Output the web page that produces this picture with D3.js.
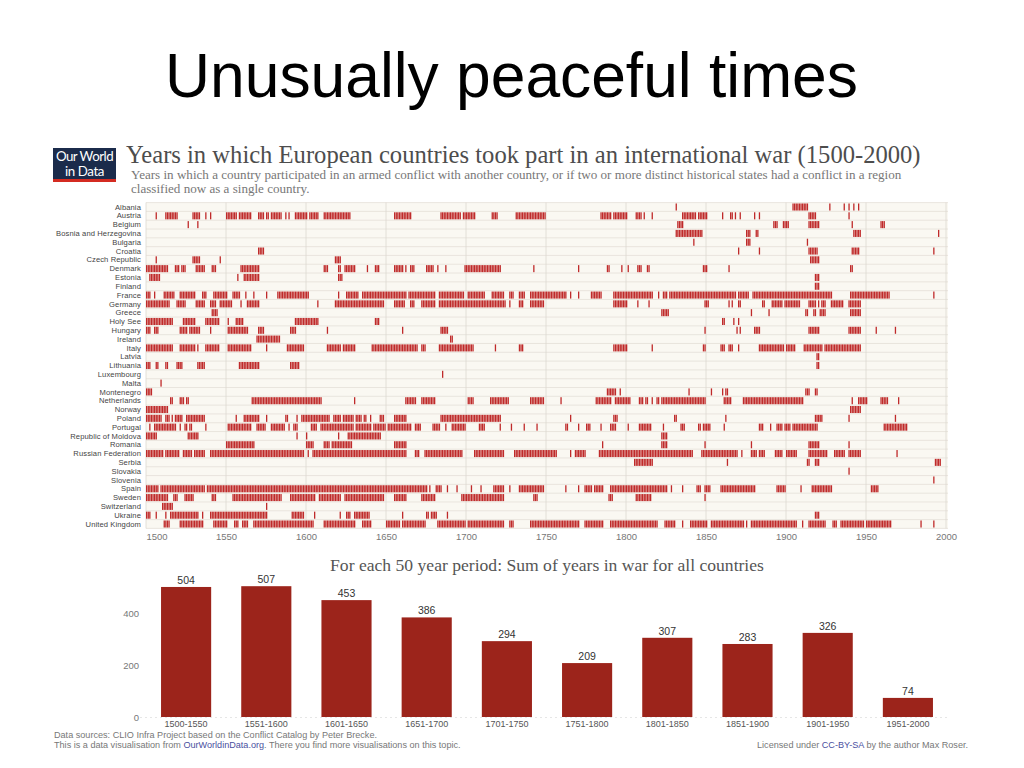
<!DOCTYPE html>
<html><head><meta charset="utf-8">
<script src="https://cdn.jsdelivr.net/npm/d3@7"></script>
<style>
html,body{margin:0;padding:0;background:#fff;}
svg{display:block;}
</style></head>
<body>
<svg id="c" width="1024" height="768"></svg>
<script>
// ---------- DATA ----------
const countries = ["Albania","Austria","Belgium","Bosnia and Herzegovina","Bulgaria","Croatia","Czech Republic","Denmark","Estonia","Finland","France","Germany","Greece","Holy See","Hungary","Ireland","Italy","Latvia","Lithuania","Luxembourg","Malta","Montenegro","Netherlands","Norway","Poland","Portugal","Republic of Moldova","Romania","Russian Federation","Serbia","Slovakia","Slovenia","Spain","Sweden","Switzerland","Ukraine","United Kingdom"];

// war-year ranges [first, last] per country
const warAlbania = [[1831,1831],[1904,1913],[1927,1927],[1936,1936],[1939,1939],[1942,1942],[1945,1945]];
const warAustria = [[1506,1506],[1512,1519],[1529,1533],[1537,1537],[1540,1540],[1550,1556],[1558,1565],[1570,1573],[1575,1576],[1578,1584],[1587,1587],[1589,1589],[1593,1600],[1602,1607],[1611,1627],[1655,1665],[1684,1696],[1698,1705],[1716,1719],[1731,1749],[1784,1790],[1792,1800],[1806,1809],[1811,1811],[1816,1816],[1835,1843],[1845,1850],[1860,1860],[1865,1866],[1868,1868],[1871,1871],[1880,1880],[1883,1883],[1914,1918],[1939,1939]];
const warBelgium = [[1526,1526],[1532,1532],[1832,1835],[1892,1894],[1898,1901],[1914,1920],[1941,1941],[1959,1961]];
const warBosnia = [[1831,1847],[1875,1877],[1881,1882],[1942,1946],[1995,1995]];
const warBulgaria = [[1842,1842],[1875,1877],[1913,1913]];
const warCroatia = [[1570,1573],[1870,1870],[1883,1883],[1914,1919],[1941,1945],[1992,1992]];
const warCzech = [[1506,1506],[1529,1533],[1546,1546],[1618,1621],[1915,1920]];
const warDenmark = [[1500,1513],[1518,1520],[1522,1524],[1531,1536],[1541,1543],[1559,1570],[1611,1613],[1620,1621],[1624,1630],[1638,1638],[1643,1645],[1655,1660],[1662,1662],[1665,1667],[1675,1679],[1682,1682],[1687,1687],[1699,1721],[1742,1742],[1770,1770],[1788,1789],[1797,1797],[1801,1801],[1807,1809],[1813,1814],[1848,1850],[1864,1864],[1940,1941]];
const warEstonia = [[1502,1508],[1557,1557],[1561,1570],[1620,1622],[1918,1920]];
const warFinland = [[1918,1920]];
const warFrance = [[1500,1502],[1505,1505],[1511,1517],[1521,1530],[1535,1537],[1542,1550],[1554,1558],[1562,1562],[1567,1567],[1575,1575],[1582,1601],[1620,1620],[1625,1632],[1635,1662],[1664,1680],[1683,1698],[1701,1711],[1716,1723],[1727,1729],[1733,1736],[1740,1762],[1765,1765],[1770,1770],[1778,1784],[1792,1816],[1820,1820],[1823,1825],[1827,1868],[1870,1876],[1879,1928],[1940,1964],[1992,1992]];
const warGermany = [[1500,1514],[1519,1524],[1531,1536],[1540,1543],[1546,1553],[1559,1559],[1563,1570],[1607,1607],[1618,1648],[1655,1661],[1665,1667],[1672,1680],[1683,1724],[1727,1727],[1733,1735],[1740,1748],[1792,1800],[1807,1807],[1814,1814],[1849,1851],[1864,1864],[1866,1866],[1870,1871],[1885,1886],[1891,1897],[1899,1908],[1914,1918],[1920,1920],[1922,1924],[1928,1935],[1939,1946]];
const warGreece = [[1541,1544],[1822,1826],[1878,1878],[1889,1889],[1912,1913],[1917,1918],[1921,1924],[1940,1946]];
const warHolySee = [[1500,1516],[1523,1530],[1537,1545],[1551,1551],[1556,1560],[1593,1607],[1643,1645],[1860,1861],[1867,1867],[1870,1870]];
const warHungary = [[1500,1502],[1505,1507],[1521,1525],[1527,1533],[1540,1540],[1551,1563],[1570,1573],[1590,1593],[1613,1613],[1660,1660],[1684,1688],[1849,1849],[1869,1869],[1871,1871],[1880,1883],[1914,1920],[1939,1946],[1956,1956],[1968,1968]];
const warIreland = [[1569,1583],[1690,1691]];
const warItaly = [[1500,1516],[1521,1530],[1532,1532],[1537,1545],[1551,1565],[1575,1575],[1588,1598],[1613,1621],[1623,1630],[1641,1669],[1672,1674],[1683,1704],[1718,1718],[1733,1735],[1792,1800],[1816,1816],[1848,1849],[1859,1861],[1864,1866],[1870,1870],[1883,1898],[1900,1905],[1911,1922],[1924,1946]];
const warLatvia = [[1919,1920]];
const warLithuania = [[1500,1502],[1506,1507],[1512,1513],[1519,1522],[1532,1536],[1558,1570],[1590,1595],[1919,1920]];
const warLuxembourg = [[1685,1685]];
const warMalta = [[1509,1509]];
const warMontenegro = [[1500,1503],[1788,1793],[1796,1796],[1839,1839],[1853,1853],[1860,1860],[1862,1863],[1912,1914],[1918,1919]];
const warNetherlands = [[1515,1516],[1521,1523],[1525,1526],[1566,1609],[1630,1630],[1662,1668],[1672,1680],[1701,1704],[1715,1726],[1740,1748],[1759,1759],[1781,1790],[1793,1802],[1808,1810],[1812,1813],[1816,1816],[1819,1820],[1822,1849],[1861,1865],[1873,1910],[1941,1941],[1945,1950],[1959,1963],[1970,1970]];
const warNorway = [[1500,1513],[1940,1946]];
const warPoland = [[1500,1509],[1512,1514],[1516,1516],[1518,1522],[1525,1536],[1556,1556],[1561,1570],[1575,1575],[1587,1588],[1594,1594],[1597,1614],[1617,1621],[1623,1629],[1631,1634],[1636,1637],[1640,1640],[1646,1648],[1655,1662],[1684,1721],[1765,1765],[1792,1794],[1830,1831],[1862,1862],[1918,1922],[1939,1939],[1968,1968]];
const warPortugal = [[1502,1502],[1505,1518],[1521,1521],[1524,1525],[1527,1528],[1537,1537],[1551,1565],[1569,1574],[1578,1586],[1589,1589],[1592,1594],[1603,1606],[1609,1629],[1631,1640],[1642,1649],[1651,1665],[1668,1671],[1679,1683],[1687,1687],[1691,1699],[1708,1711],[1721,1721],[1728,1728],[1736,1736],[1744,1744],[1762,1763],[1770,1770],[1775,1777],[1784,1784],[1790,1793],[1801,1801],[1808,1815],[1823,1823],[1834,1836],[1845,1846],[1848,1852],[1861,1861],[1883,1885],[1890,1890],[1894,1897],[1899,1902],[1904,1919],[1961,1975]];
const warMoldova = [[1500,1506],[1526,1532],[1594,1594],[1600,1600],[1620,1620],[1626,1646],[1822,1825]];
const warRomania = [[1550,1567],[1600,1604],[1611,1614],[1616,1628],[1655,1662],[1785,1785],[1822,1825],[1849,1849],[1878,1878],[1914,1920],[1939,1939]];
const warRussia = [[1500,1510],[1512,1520],[1523,1528],[1530,1536],[1540,1598],[1601,1601],[1604,1662],[1668,1670],[1674,1697],[1705,1723],[1730,1756],[1765,1765],[1768,1774],[1783,1841],[1847,1869],[1872,1872],[1878,1881],[1883,1886],[1893,1897],[1900,1906],[1914,1925],[1930,1936],[1939,1946],[1969,1969]];
const warSerbia = [[1805,1816],[1863,1863],[1913,1914],[1918,1920],[1993,1996]];
const warSlovakia = [[1939,1939]];
const warSlovenia = [[1992,1992]];
const warSpain = [[1500,1507],[1509,1536],[1538,1675],[1677,1677],[1681,1684],[1688,1688],[1694,1694],[1703,1703],[1709,1709],[1717,1723],[1727,1727],[1733,1748],[1762,1762],[1770,1770],[1774,1778],[1780,1785],[1790,1825],[1828,1828],[1835,1835],[1844,1846],[1849,1852],[1859,1880],[1894,1899],[1909,1909],[1916,1928],[1953,1957]];
const warSweden = [[1500,1513],[1517,1519],[1524,1529],[1541,1543],[1554,1584],[1590,1605],[1608,1621],[1624,1648],[1655,1662],[1672,1680],[1697,1723],[1742,1744],[1789,1791],[1806,1815],[1849,1849]];
const warSwitzerland = [[1510,1516],[1575,1575]];
const warUkraine = [[1500,1502],[1506,1506],[1512,1512],[1515,1532],[1535,1535],[1540,1575],[1591,1598],[1605,1605],[1621,1621],[1625,1627],[1630,1639],[1660,1660],[1675,1676],[1678,1681],[1688,1688],[1918,1920]];
const warUK = [[1511,1514],[1521,1535],[1542,1550],[1555,1557],[1560,1563],[1567,1604],[1611,1630],[1635,1640],[1650,1658],[1660,1674],[1682,1699],[1701,1723],[1727,1729],[1740,1770],[1774,1785],[1790,1819],[1824,1830],[1835,1835],[1840,1850],[1853,1873],[1875,1875],[1878,1906],[1910,1910],[1914,1924],[1929,1931],[1934,1948],[1950,1965],[1984,1984],[1992,1992]];

const warRanges = [warAlbania,warAustria,warBelgium,warBosnia,warBulgaria,warCroatia,warCzech,warDenmark,warEstonia,warFinland,warFrance,warGermany,warGreece,warHolySee,warHungary,warIreland,warItaly,warLatvia,warLithuania,warLuxembourg,warMalta,warMontenegro,warNetherlands,warNorway,warPoland,warPortugal,warMoldova,warRomania,warRussia,warSerbia,warSlovakia,warSlovenia,warSpain,warSweden,warSwitzerland,warUkraine,warUK];

const yearTicks = [1500,1550,1600,1650,1700,1750,1800,1850,1900,1950,2000];

const periods = ["1500-1550","1551-1600","1601-1650","1651-1700","1701-1750","1751-1800","1801-1850","1851-1900","1901-1950","1951-2000"];
const periodTotals = [504,507,453,386,294,209,307,283,326,74];
const totalTicks = [0,200,400];

// ---------- DRAW ----------
const svg = d3.select("#c");
const SANS = "'Liberation Sans', Arial, sans-serif";
const SERIF = "'Liberation Serif', 'DejaVu Serif', serif";

function fitText(sel, w){
  const n = sel.node(); const l = n.getComputedTextLength();
  if (l>0) { const fs = parseFloat(sel.style("font-size")); sel.style("font-size",(fs*w/l)+"px"); }
}

const tt = svg.append("text").attr("x",511.5).attr("y",97).attr("text-anchor","middle")
  .style("font-family",SANS).style("font-size","62px").attr("fill","#000")
  .text("Unusually peaceful times");
fitText(tt, 693);

// logo
const logo = svg.append("g");
logo.append("rect").attr("x",53).attr("y",148).attr("width",63).attr("height",34).attr("fill","#1b2b4b");
logo.append("rect").attr("x",53).attr("y",179).attr("width",63).attr("height",3).attr("fill","#d42b21");
const lg1 = logo.append("text").attr("x",84.5).attr("y",161).attr("text-anchor","middle").attr("fill","#fff")
  .style("font-family","Lato, 'Liberation Sans', sans-serif").style("font-size","12.5px").style("letter-spacing","-0.5px").text("Our World");
fitText(lg1, 57);
logo.append("text").attr("x",84.5).attr("y",176).attr("text-anchor","middle").attr("fill","#fff")
  .style("font-family","Lato, 'Liberation Sans', sans-serif").style("font-size",lg1.style("font-size")).style("letter-spacing","-0.4px").text("in Data");

const t1 = svg.append("text").attr("x",126).attr("y",163).style("font-family",SERIF).style("font-size","21px")
  .attr("fill","#4d4d4d").text("Years in which European countries took part in an international war (1500-2000)");
fitText(t1, 795);
const s1 = svg.append("text").attr("x",131).attr("y",179).style("font-family",SERIF).style("font-size","12px")
  .attr("fill","#777").text("Years in which a country participated in an armed conflict with another country, or if two or more distinct historical states had a conflict in a region");
fitText(s1, 771);
svg.append("text").attr("x",131).attr("y",193).style("font-family",SERIF).style("font-size",s1.style("font-size"))
  .attr("fill","#777").text("classified now as a single country.");

// timeline
const x = d3.scaleLinear().domain([1500,2000]).range([146,946]);
const y = d3.scaleBand().domain(countries).range([202.6,528.4]).paddingInner(0.2).paddingOuter(0.1);
const step = x(1501)-x(1500);

const tl = svg.append("g");
tl.append("rect").attr("x",x(1500)).attr("y",y.range()[0]).attr("width",x(2000)-x(1500)+2)
  .attr("height",y.range()[1]-y.range()[0]).attr("fill","#faf8f2");
tl.selectAll("line.row").data(countries.concat(["_end"])).join("line")
  .attr("x1",x(1500)).attr("x2",x(2000)+2)
  .attr("y1",(d,i)=> y.range()[0] + i*y.step()).attr("y2",(d,i)=> y.range()[0] + i*y.step())
  .attr("stroke","#e4e0d8").attr("stroke-width",0.8);
tl.selectAll("line.grid").data(yearTicks).join("line")
  .attr("x1",d=>x(d)).attr("x2",d=>x(d)).attr("y1",y.range()[0]).attr("y2",y.range()[1])
  .attr("stroke","#dcd8d0").attr("stroke-width",0.8);

const cells = [];
countries.forEach((c,i)=>{
  warRanges[i].forEach(([a,b])=>{ for(let yr=a; yr<=b; yr++) cells.push({c, yr}); });
});
tl.selectAll("rect.cell").data(cells).join("rect")
  .attr("x",d=>x(d.yr)).attr("width",step-0.3)
  .attr("y",d=>y(d.c)).attr("height",y.bandwidth())
  .attr("fill","#bf2a2a");

tl.selectAll("text.country").data(countries).join("text")
  .attr("x",141).attr("y",d=>y(d)+y.bandwidth()/2).attr("dy","0.35em").attr("text-anchor","end")
  .style("font-family",SANS).style("font-size","7.6px").style("letter-spacing","0.1px").attr("fill","#444").text(d=>d);

const xAxis = svg.append("g").attr("transform",`translate(0,${y.range()[1]})`)
  .call(d3.axisBottom(x).tickValues(yearTicks).tickFormat(d3.format("d")).tickSize(0).tickPadding(5));
xAxis.select(".domain").remove();
xAxis.selectAll("text").style("font-family",SANS).style("font-size","9.5px").attr("fill","#777");
xAxis.selectAll(".tick").filter(d=>d===1500).select("text").attr("text-anchor","start");

// bar chart
const bt = svg.append("text").attr("x",547).attr("y",571).attr("text-anchor","middle").style("font-family",SERIF)
  .style("font-size","17px").attr("fill","#555").text("For each 50 year period: Sum of years in war for all countries");
fitText(bt, 434);

const bx = d3.scaleBand().domain(periods).range([146,948]).paddingInner(0.375).paddingOuter(0.1875);
const by = d3.scaleLinear().domain([0,400]).range([717,613.8]);

svg.append("line").attr("x1",140).attr("x2",948).attr("y1",by(0)+0.5).attr("y2",by(0)+0.5)
  .attr("stroke","#e6e6e6").attr("stroke-dasharray","2,3");

svg.selectAll("rect.bar").data(periods).join("rect")
  .attr("x",d=>bx(d)).attr("width",bx.bandwidth())
  .attr("y",(d,i)=>by(periodTotals[i])).attr("height",(d,i)=>by(0)-by(periodTotals[i]))
  .attr("fill","#9c241b");
svg.selectAll("text.val").data(periods).join("text")
  .attr("x",d=>bx(d)+bx.bandwidth()/2).attr("y",(d,i)=>by(periodTotals[i])-3).attr("text-anchor","middle")
  .style("font-family",SANS).style("font-size","10.5px").attr("fill","#333").text((d,i)=>periodTotals[i]);

const bAxis = svg.append("g").attr("transform",`translate(0,${by(0)})`)
  .call(d3.axisBottom(bx).tickSize(0).tickPadding(4));
bAxis.select(".domain").remove();
bAxis.selectAll("text").style("font-family",SANS).style("font-size","9px").attr("fill","#555");

const yAx = svg.append("g").attr("transform","translate(139,0)")
  .call(d3.axisLeft(by).tickValues(totalTicks).tickSize(0).tickPadding(0));
yAx.select(".domain").remove();
yAx.selectAll("text").style("font-family",SANS).style("font-size","9.5px").attr("fill","#777");

// footer
const f1 = svg.append("text").attr("x",54).attr("y",738).style("font-family",SANS).style("font-size","9.1px")
  .attr("fill","#777").text("Data sources: CLIO Infra Project based on the Conflict Catalog by Peter Brecke.");
const f2 = svg.append("text").attr("x",54).attr("y",748).style("font-family",SANS).style("font-size","9.1px").attr("fill","#777");
f2.append("tspan").text("This is a data visualisation from ");
f2.append("tspan").attr("fill","#4a4fa0").text("OurWorldinData.org");
f2.append("tspan").text(". There you find more visualisations on this topic.");
const f3 = svg.append("text").attr("x",968).attr("y",748).attr("text-anchor","end").style("font-family",SANS).style("font-size","9.1px").attr("fill","#777");
f3.append("tspan").text("Licensed under ");
f3.append("tspan").attr("fill","#4a4fa0").text("CC-BY-SA");
f3.append("tspan").text(" by the author Max Roser.");
</script>
</body></html>
